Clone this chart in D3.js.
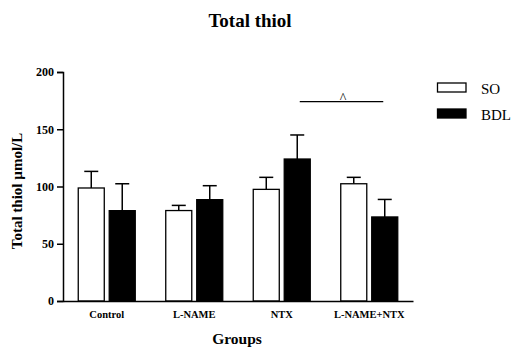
<!DOCTYPE html>
<html>
<head>
<meta charset="utf-8">
<script src="https://cdn.jsdelivr.net/npm/d3@7"></script>
<style>
	body { margin: 0; background: #fff; }
</style>
</head>
<body>
<script>
var groups = ['Control', 'L-NAME', 'NTX', 'L-NAME+NTX'];
var series = ['SO', 'BDL'];
var soMean = [98.7, 79, 97.5, 102.4];
var soErr = [14.5, 4.5, 10.5, 5.6];
var bdlMean = [78.9, 88.5, 124, 73.4];
var bdlErr = [23.5, 12.2, 21, 15.3];
var yTicks = [0, 50, 100, 150, 200];

var width = 514, height = 349;
var margin = {left: 63, right: 101, top: 72, bottom: 48};
var serif = '"Liberation Serif", "Times New Roman", serif';

var svg = d3.select('body')
	.append('svg')
	.attr('width', width)
	.attr('height', height);

var x = d3.scaleBand()
	.domain(groups)
	.range([margin.left, width - margin.right])
	.paddingInner(0)
	.paddingOuter(0);

var x1 = d3.scaleBand()
	.domain(series)
	.range([-28.5, 28.5])
	.paddingInner(0.16);

var y = d3.scaleLinear()
	.domain([0, 200])
	.range([height - margin.bottom, margin.top]);

var color = d3.scaleOrdinal().domain(series).range(['#fff', '#000']);

var rows = [];
groups.map(function(g, i){
	rows.push({group: g, key: 'SO', value: soMean[i], err: soErr[i]});
	rows.push({group: g, key: 'BDL', value: bdlMean[i], err: bdlErr[i]});
});

// ERROR BARS (up only)
var eb = svg.append('g').selectAll('g')
	.data(rows)
	.enter()
	.append('g')
	.attr('transform', function(d){ return 'translate(' + (x(d.group) + x.bandwidth() / 2 + x1(d.key) + x1.bandwidth() / 2) + ',0)'; });

eb.append('line')
	.attr('x1', 0).attr('x2', 0)
	.attr('y1', function(d){ return y(d.value); })
	.attr('y2', function(d){ return y(d.value + d.err); })
	.attr('stroke', '#000').attr('stroke-width', 1.5);

eb.append('line')
	.attr('x1', -7).attr('x2', 7)
	.attr('y1', function(d){ return y(d.value + d.err); })
	.attr('y2', function(d){ return y(d.value + d.err); })
	.attr('stroke', '#000').attr('stroke-width', 1.5);

// BARS
svg.append('g').selectAll('rect')
	.data(rows)
	.enter()
	.append('rect')
	.attr('x', function(d){ return x(d.group) + x.bandwidth() / 2 + x1(d.key); })
	.attr('y', function(d){ return y(d.value); })
	.attr('width', x1.bandwidth())
	.attr('height', function(d){ return y(0) - y(d.value); })
	.attr('fill', function(d){ return color(d.key); })
	.attr('stroke', '#000')
	.attr('stroke-width', 1.3);

// AXES
var yAxis = svg.append('g')
	.attr('transform', 'translate(' + margin.left + ',0)')
	.call(d3.axisLeft(y).tickValues(yTicks).tickSize(6).tickPadding(3));
yAxis.select('.domain').attr('stroke-width', 1.5);
yAxis.selectAll('.tick line').attr('stroke-width', 1.5);
yAxis.selectAll('.tick text')
	.style('font-size', '12px')
	.style('font-family', serif)
	.style('font-weight', 'bold');

var xAxis = svg.append('g')
	.attr('transform', 'translate(0,' + y(0) + ')')
	.call(d3.axisBottom(x).tickSize(0).tickPadding(10).tickSizeOuter(0));
xAxis.select('.domain').attr('stroke-width', 1.5);
xAxis.selectAll('.tick text')
	.style('font-size', '10.5px')
	.style('font-family', serif)
	.style('font-weight', 'bold');

// TITLES
svg.append('text')
	.attr('x', 250).attr('y', 27)
	.attr('text-anchor', 'middle')
	.style('font-family', serif).style('font-weight', 'bold')
	.style('font-size', '19px')
	.text('Total thiol');

svg.append('text')
	.attr('transform', 'translate(22,191) rotate(-90)')
	.attr('text-anchor', 'middle')
	.style('font-family', serif).style('font-weight', 'bold')
	.style('font-size', '15px')
	.text('Total thiol µmol/L');

svg.append('text')
	.attr('x', 237).attr('y', 344)
	.attr('text-anchor', 'middle')
	.style('font-family', serif).style('font-weight', 'bold')
	.style('font-size', '15.5px')
	.text('Groups');

// SIGNIFICANCE
svg.append('line')
	.attr('x1', x('NTX') + x.bandwidth() / 2 + 18).attr('x2', x('L-NAME+NTX') + x.bandwidth() / 2 + 14)
	.attr('y1', 101.7).attr('y2', 101.7)
	.attr('stroke', '#000').attr('stroke-width', 1.3);
svg.append('text')
	.attr('x', 343).attr('y', 102.5)
	.attr('text-anchor', 'middle')
	.style('font-family', serif)
	.style('font-size', '14px')
	.text('^');

// LEGEND
var legend = svg.append('g').selectAll('g')
	.data(series)
	.enter()
	.append('g')
	.attr('transform', function(d, i){ return 'translate(437.5,' + (83 + i * 26) + ')'; });
legend.append('rect')
	.attr('width', 28.5).attr('height', 9)
	.attr('fill', function(d){ return color(d); })
	.attr('stroke', '#000').attr('stroke-width', 1.3);
legend.append('text')
	.attr('x', 43.5).attr('y', 10.5)
	.style('font-family', serif)
	.style('font-size', '15px')
	.text(function(d){ return d; });
</script>
</body>
</html>
